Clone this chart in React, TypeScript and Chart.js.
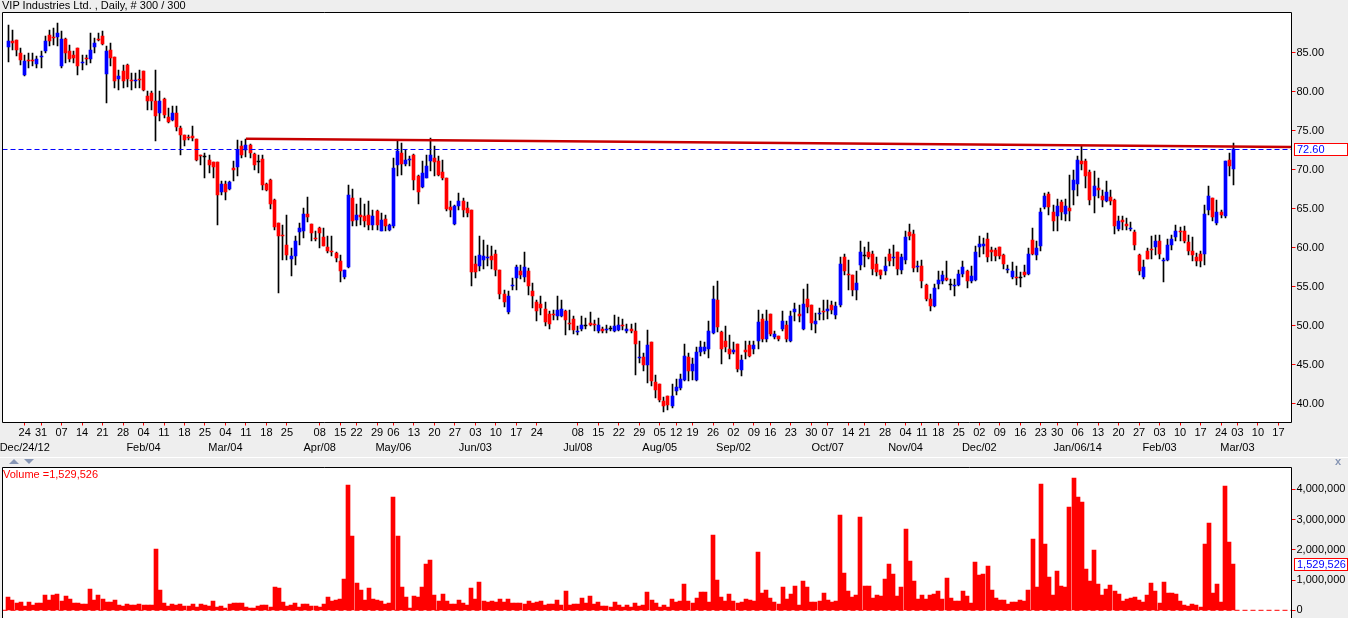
import React, { useEffect, useRef } from "react";
import { Chart, registerables } from "chart.js";

Chart.register(...registerables);

const title = "VIP Industries Ltd. , Daily, # 300 / 300";

const openP = [
  85.68, 86.45, 86.67, 84.96, 82.18, 84.10, 84.10, 83.59, 84.40, 85.17,
  87.22, 87.05, 87.01, 83.25, 86.79, 85.26, 84.74, 85.60, 83.70, 84.30,
  84.23, 85.73, 86.75, 87.18, 82.31, 85.38, 84.40, 81.67, 82.69, 83.46,
  81.50, 81.40, 81.67, 82.61, 79.40, 79.83, 78.76, 77.26, 79.06, 76.75,
  76.32, 77.26, 75.34, 74.49, 74.23, 74.36, 73.97, 71.92, 71.62, 71.28,
  71.02, 71.02, 67.09, 68.20, 67.56, 70.17, 70.34, 73.08, 72.48, 73.20,
  72.00, 71.00, 71.41, 68.20, 68.72, 66.15, 63.12, 61.60, 60.38, 58.59,
  58.97, 62.00, 62.10, 64.36, 63.08, 61.20, 62.52, 61.33, 60.13, 59.62,
  59.36, 58.25, 56.24, 57.52, 66.37, 63.59, 64.20, 64.10, 64.23, 62.95,
  64.66, 62.18, 63.68, 62.22, 62.74, 70.64, 72.14, 70.77, 71.20, 71.92,
  69.23, 67.78, 68.93, 71.15, 71.54, 71.15, 69.74, 68.93, 65.21, 63.08,
  65.30, 66.03, 65.09, 64.87, 57.95, 57.61, 58.38, 58.66, 58.89, 59.23,
  57.18, 54.10, 51.71, 55.10, 56.08, 57.05, 56.20, 57.05, 54.40, 53.03,
  52.82, 52.18, 51.54, 51.50, 51.20, 51.28, 51.92, 50.30, 50.90, 49.17,
  49.62, 50.00, 50.38, 50.26, 49.28, 49.62, 49.40, 49.57, 49.36, 49.49,
  50.13, 49.28, 49.57, 49.36, 45.84, 45.98, 44.92, 47.91, 42.78, 42.52,
  40.39, 40.94, 39.66, 41.58, 42.01, 43.08, 45.98, 44.15, 43.08, 46.58,
  46.79, 47.05, 49.06, 53.33, 49.15, 47.99, 47.05, 46.62, 47.69, 44.27,
  46.92, 47.56, 47.05, 48.08, 50.90, 48.33, 51.50, 48.55, 48.63, 49.62,
  50.13, 48.08, 51.79, 51.54, 49.62, 53.46, 52.69, 50.26, 51.45, 51.84,
  51.92, 52.61, 51.33, 52.61, 58.80, 56.54, 56.54, 54.62, 57.73, 58.93,
  59.45, 59.19, 57.93, 57.09, 56.97, 59.23, 58.63, 59.40, 57.09, 58.46,
  61.97, 61.80, 57.56, 57.69, 55.26, 53.42, 52.48, 55.34, 55.68, 56.11,
  55.26, 55.13, 55.26, 56.62, 57.05, 55.68, 55.90, 60.04, 60.17, 61.15,
  59.66, 59.66, 60.09, 59.10, 57.14, 56.20, 56.15, 56.11, 56.84, 56.67,
  61.03, 59.10, 60.17, 65.17, 66.88, 64.57, 64.02, 65.85, 64.36, 65.09,
  67.35, 68.21, 71.15, 71.15, 69.66, 66.58, 67.61, 66.58, 65.94, 66.45,
  66.15, 62.44, 63.59, 63.08, 62.40, 61.97, 59.10, 56.20, 59.53, 59.80,
  60.04, 60.90, 58.33, 58.38, 60.38, 61.32, 62.10, 62.18, 60.73, 59.53,
  58.76, 59.19, 59.19, 64.87, 66.37, 63.16, 64.57, 64.02, 71.20, 70.09,
];

const highP = [
  88.59, 87.95, 86.70, 85.60, 84.74, 84.96, 84.96, 84.53, 85.17, 87.09,
  87.86, 88.16, 88.80, 87.74, 86.85, 86.03, 85.17, 85.65, 84.74, 84.74,
  87.52, 86.88, 87.52, 87.74, 85.81, 86.24, 84.45, 82.82, 83.46, 83.50,
  82.39, 82.39, 82.82, 82.65, 80.04, 80.04, 82.82, 80.04, 79.19, 77.91,
  78.12, 78.12, 75.56, 74.50, 74.49, 75.56, 74.00, 71.92, 72.14, 71.92,
  71.05, 71.05, 68.50, 68.50, 68.50, 71.07, 73.85, 73.63, 73.93, 73.30,
  72.14, 71.92, 71.92, 68.30, 68.80, 66.20, 63.20, 62.95, 64.14, 59.96,
  61.45, 63.16, 65.10, 66.45, 63.10, 62.10, 62.60, 62.52, 61.54, 61.45,
  59.40, 59.02, 57.10, 68.08, 67.52, 65.64, 66.37, 65.64, 65.94, 64.87,
  64.87, 64.44, 64.23, 63.00, 71.50, 73.63, 73.42, 72.56, 71.71, 72.05,
  69.30, 71.07, 71.92, 74.06, 72.99, 71.71, 71.28, 69.00, 65.94, 65.51,
  67.01, 66.37, 65.81, 64.90, 58.89, 61.54, 60.94, 60.38, 60.17, 59.74,
  57.20, 54.60, 54.40, 56.11, 57.76, 57.82, 59.45, 57.39, 55.47, 53.33,
  53.76, 53.03, 51.92, 52.05, 53.85, 53.33, 52.05, 52.05, 51.28, 49.92,
  51.28, 50.98, 51.75, 50.77, 50.98, 49.83, 50.13, 49.92, 51.41, 51.11,
  50.85, 50.21, 50.21, 50.34, 47.99, 46.50, 49.49, 47.95, 43.72, 42.55,
  40.81, 41.00, 42.52, 43.16, 43.80, 47.69, 46.50, 45.85, 47.22, 48.08,
  47.86, 50.56, 55.13, 55.68, 49.36, 50.00, 48.85, 47.86, 47.70, 46.28,
  47.99, 47.99, 48.08, 52.05, 51.54, 52.05, 51.54, 49.27, 48.65, 51.84,
  50.64, 51.84, 52.91, 52.61, 54.74, 55.38, 52.70, 51.62, 52.26, 53.33,
  53.33, 53.20, 53.03, 58.76, 59.19, 58.46, 56.55, 57.05, 60.90, 60.09,
  60.73, 59.53, 58.80, 57.10, 58.80, 59.83, 60.38, 59.45, 59.23, 62.09,
  63.03, 62.31, 58.33, 58.46, 55.30, 54.06, 55.34, 56.97, 57.05, 58.25,
  56.03, 56.03, 57.18, 58.33, 57.10, 57.61, 60.17, 61.45, 61.24, 61.88,
  60.09, 59.96, 60.10, 59.15, 57.82, 58.16, 57.69, 56.88, 57.82, 59.96,
  62.52, 60.90, 65.09, 67.01, 67.14, 65.51, 66.28, 66.15, 66.28, 69.36,
  70.00, 71.79, 72.99, 71.41, 70.00, 69.87, 68.93, 67.44, 68.50, 67.44,
  66.20, 64.02, 64.02, 63.80, 63.29, 62.31, 59.15, 58.46, 59.96, 61.45,
  61.58, 61.67, 58.67, 61.15, 61.67, 62.86, 62.61, 62.74, 61.67, 61.32,
  59.32, 59.62, 65.51, 67.86, 66.40, 66.07, 64.87, 71.10, 72.14, 73.42,
];

const lowP = [
  83.80, 85.38, 84.53, 83.46, 82.05, 83.03, 83.25, 83.03, 83.03, 84.96,
  85.81, 86.03, 85.81, 83.03, 83.68, 83.76, 83.68, 82.18, 82.82, 83.46,
  83.68, 84.96, 86.45, 86.03, 78.55, 83.25, 80.47, 80.26, 80.47, 80.56,
  80.26, 80.47, 80.47, 80.04, 77.61, 77.61, 73.63, 76.20, 76.62, 75.98,
  76.20, 74.91, 71.84, 73.00, 73.85, 73.63, 71.07, 70.64, 68.93, 69.57,
  68.93, 62.86, 66.80, 66.07, 67.40, 68.50, 69.15, 71.50, 71.58, 71.50,
  70.00, 69.57, 67.44, 67.30, 65.00, 62.30, 54.20, 58.46, 58.46, 56.33,
  57.82, 60.38, 61.24, 63.29, 60.81, 60.81, 59.96, 60.17, 59.32, 58.89,
  58.16, 55.60, 56.03, 57.40, 62.82, 62.74, 62.95, 62.65, 62.31, 62.31,
  62.22, 62.10, 62.10, 62.10, 62.52, 69.23, 69.36, 70.43, 70.51, 67.44,
  65.64, 67.65, 68.93, 69.79, 69.15, 69.15, 68.72, 64.66, 63.93, 62.95,
  64.87, 63.93, 63.93, 55.04, 56.11, 56.97, 57.26, 57.61, 57.26, 56.41,
  53.42, 52.40, 51.50, 54.60, 54.55, 56.03, 55.60, 53.97, 52.26, 50.64,
  51.41, 49.92, 49.62, 50.77, 50.77, 51.07, 48.76, 49.49, 48.93, 48.76,
  49.32, 49.62, 49.92, 49.36, 49.06, 49.06, 49.06, 49.36, 49.19, 49.28,
  49.49, 49.06, 49.06, 43.72, 45.21, 44.15, 42.65, 42.22, 40.73, 40.21,
  38.93, 39.23, 39.45, 41.15, 41.80, 42.86, 42.86, 43.08, 42.86, 46.07,
  46.37, 45.85, 48.93, 49.19, 45.13, 46.62, 45.77, 46.37, 44.02, 43.50,
  45.77, 45.94, 46.37, 47.05, 47.91, 47.86, 48.63, 48.33, 48.08, 49.27,
  47.91, 47.91, 50.56, 50.47, 49.49, 51.62, 49.49, 49.06, 50.77, 50.77,
  50.90, 51.50, 50.90, 52.35, 56.45, 54.62, 53.76, 53.25, 57.18, 57.48,
  58.55, 56.54, 56.43, 56.03, 56.54, 57.61, 57.61, 56.54, 56.62, 57.91,
  60.94, 56.88, 56.88, 54.83, 53.12, 51.92, 52.35, 54.74, 55.38, 55.68,
  54.62, 53.76, 55.04, 56.20, 54.83, 55.47, 55.68, 58.76, 59.19, 58.12,
  58.25, 58.33, 58.59, 57.31, 56.75, 56.03, 55.26, 54.96, 56.20, 56.54,
  59.10, 58.46, 59.53, 64.99, 64.23, 62.09, 62.18, 63.59, 63.46, 63.46,
  65.51, 66.58, 70.00, 67.65, 65.51, 64.44, 66.37, 65.17, 65.81, 65.51,
  61.75, 62.09, 62.31, 62.31, 62.09, 59.74, 56.45, 56.03, 58.50, 58.59,
  59.10, 58.59, 55.60, 58.25, 59.74, 60.81, 60.81, 60.60, 59.10, 58.25,
  57.69, 57.52, 57.82, 64.23, 63.46, 62.95, 63.80, 63.80, 69.15, 67.99,
];

const closeP = [
  86.45, 86.24, 85.30, 84.10, 83.89, 84.00, 84.00, 84.23, 84.50, 86.54,
  86.45, 86.95, 87.56, 86.79, 84.96, 84.23, 84.32, 83.25, 83.80, 84.20,
  85.38, 86.24, 86.58, 86.15, 85.26, 84.32, 81.32, 82.05, 81.41, 81.67,
  81.40, 81.50, 81.45, 80.17, 78.76, 78.76, 76.84, 78.76, 77.05, 76.07,
  77.26, 75.47, 74.49, 73.76, 74.06, 74.06, 71.28, 71.71, 71.62, 70.55,
  70.30, 66.71, 68.20, 67.09, 68.38, 69.92, 72.56, 71.92, 73.20, 72.14,
  70.55, 71.00, 68.08, 67.44, 65.64, 62.60, 61.45, 61.50, 59.10, 58.97,
  60.90, 62.51, 64.36, 63.89, 61.88, 61.10, 61.88, 60.17, 59.53, 59.45,
  58.67, 56.97, 57.09, 66.80, 63.38, 64.23, 64.00, 63.38, 62.95, 64.10,
  62.95, 63.59, 62.74, 62.95, 70.21, 72.35, 70.77, 71.28, 71.24, 68.72,
  67.09, 69.57, 70.51, 71.92, 70.94, 69.36, 68.93, 65.00, 64.79, 65.30,
  66.03, 64.79, 64.44, 56.84, 56.84, 59.11, 58.89, 58.72, 58.46, 57.18,
  54.06, 53.00, 53.85, 55.18, 57.48, 56.45, 57.56, 55.04, 53.76, 51.84,
  52.26, 50.43, 50.21, 51.33, 52.05, 52.14, 50.68, 50.25, 49.49, 49.25,
  50.13, 50.00, 50.13, 50.04, 50.13, 49.28, 49.45, 49.57, 49.96, 50.13,
  50.00, 49.62, 49.36, 47.65, 45.90, 44.92, 47.56, 42.86, 41.71, 40.43,
  39.66, 39.87, 40.94, 42.14, 43.21, 46.15, 44.15, 45.09, 46.58, 47.27,
  47.22, 49.27, 53.46, 49.79, 47.05, 47.22, 46.37, 46.92, 44.49, 45.64,
  46.58, 46.07, 47.56, 50.43, 48.33, 50.64, 48.97, 48.97, 48.33, 50.56,
  48.33, 51.20, 52.09, 51.20, 52.78, 52.35, 50.34, 50.64, 51.50, 51.71,
  52.18, 52.05, 52.48, 57.95, 56.97, 56.45, 54.53, 55.47, 59.40, 58.93,
  58.76, 57.31, 56.86, 56.45, 57.69, 58.25, 58.68, 57.31, 58.76, 61.37,
  61.45, 57.39, 57.60, 55.68, 53.42, 52.48, 54.83, 55.90, 56.54, 55.90,
  55.26, 55.20, 56.62, 57.52, 55.68, 56.41, 59.40, 60.51, 60.51, 58.76,
  59.45, 58.89, 58.89, 57.95, 57.20, 57.05, 56.10, 56.11, 56.54, 59.23,
  59.19, 59.96, 64.53, 66.58, 65.17, 63.46, 65.30, 64.53, 65.38, 64.66,
  68.72, 71.28, 70.77, 69.15, 66.15, 67.86, 67.35, 66.15, 67.09, 65.94,
  62.74, 63.46, 63.29, 62.74, 62.52, 60.38, 57.05, 57.52, 58.59, 59.70,
  60.90, 59.19, 58.42, 60.38, 61.15, 62.09, 62.00, 60.90, 59.62, 59.10,
  58.33, 58.33, 64.36, 66.67, 63.89, 64.57, 64.23, 71.07, 70.51, 72.60,
];

const volume = [
  440000, 340000, 230000, 280000, 150000, 280000, 190000, 230000, 230000, 510000,
  340000, 510000, 540000, 320000, 470000, 370000, 230000, 230000, 210000, 210000,
  710000, 340000, 510000, 370000, 280000, 280000, 340000, 170000, 150000, 210000,
  180000, 170000, 210000, 170000, 190000, 170000, 2030000, 670000, 240000, 150000,
  210000, 170000, 210000, 150000, 150000, 210000, 100000, 210000, 180000, 150000,
  310000, 120000, 150000, 80000, 210000, 230000, 240000, 240000, 120000, 80000,
  80000, 150000, 190000, 180000, 110000, 770000, 740000, 280000, 150000, 170000,
  240000, 120000, 210000, 210000, 150000, 150000, 110000, 210000, 440000, 300000,
  340000, 370000, 1040000, 4150000, 2460000, 900000, 670000, 340000, 740000, 370000,
  340000, 320000, 210000, 240000, 3750000, 2470000, 770000, 440000, 80000, 470000,
  440000, 770000, 1540000, 1660000, 510000, 310000, 540000, 310000, 210000, 210000,
  340000, 240000, 180000, 740000, 370000, 940000, 310000, 280000, 310000, 280000,
  370000, 280000, 370000, 240000, 240000, 240000, 210000, 310000, 240000, 280000,
  310000, 190000, 210000, 210000, 340000, 180000, 640000, 180000, 210000, 210000,
  410000, 240000, 470000, 210000, 280000, 140000, 140000, 110000, 280000, 180000,
  110000, 180000, 110000, 240000, 140000, 180000, 610000, 340000, 240000, 110000,
  180000, 110000, 370000, 280000, 310000, 870000, 310000, 240000, 410000, 610000,
  610000, 280000, 2490000, 1000000, 440000, 310000, 540000, 310000, 240000, 280000,
  370000, 340000, 310000, 1930000, 570000, 670000, 410000, 280000, 210000, 770000,
  370000, 540000, 800000, 180000, 970000, 770000, 280000, 280000, 310000, 570000,
  340000, 280000, 310000, 3150000, 1230000, 640000, 440000, 510000, 3090000, 800000,
  800000, 410000, 510000, 470000, 1040000, 1530000, 1200000, 470000, 770000, 2690000,
  1630000, 970000, 370000, 510000, 370000, 510000, 540000, 640000, 370000, 1070000,
  410000, 310000, 310000, 640000, 470000, 240000, 1600000, 1180000, 1200000, 1470000,
  670000, 410000, 340000, 340000, 210000, 280000, 280000, 340000, 310000, 670000,
  2360000, 770000, 4180000, 2190000, 1100000, 510000, 1300000, 800000, 770000, 3420000,
  4370000, 3750000, 3580000, 1370000, 970000, 1990000, 870000, 510000, 710000, 840000,
  640000, 540000, 310000, 370000, 410000, 440000, 340000, 280000, 510000, 900000,
  640000, 240000, 940000, 570000, 570000, 540000, 310000, 180000, 140000, 210000,
  180000, 110000, 2190000, 2890000, 570000, 870000, 280000, 4110000, 2260000, 1529526,
];

// weekly date ticks (bar index of each labelled Monday)
const tickIdx = [
  4, 8, 13, 18, 23, 28, 33, 38, 43, 48, 53, 58, 63, 68, 76, 81, 85, 90, 94, 99,
  104, 109, 114, 119, 124, 129, 139, 144, 149, 154, 159, 163, 167, 172, 177, 182, 186, 191, 196, 200,
  205, 209, 214, 219, 223, 227, 232, 237, 242, 247, 252, 256, 261, 266, 271, 276, 281, 286, 291, 296,
  300, 305, 310,
];
const tickDay = [
  "24", "31", "07", "14", "21", "28", "04", "11", "18", "25", "04", "11", "18", "25", "08", "15", "22", "29", "06", "13",
  "20", "27", "03", "10", "17", "24", "08", "15", "22", "29", "05", "12", "19", "26", "02", "09", "16", "23", "30", "07",
  "14", "21", "28", "04", "11", "18", "25", "02", "09", "16", "23", "30", "06", "13", "20", "27", "03", "10", "17", "24",
  "03", "10", "17",
];
const tickMonth = [
  "Dec/24/12", "", "", "", "", "", "Feb/04", "", "", "", "Mar/04", "", "", "", "Apr/08", "", "", "", "May/06", "",
  "", "", "Jun/03", "", "", "", "Jul/08", "", "", "", "Aug/05", "", "", "", "Sep/02", "", "", "", "", "Oct/07",
  "", "", "", "Nov/04", "", "", "", "Dec/02", "", "", "", "", "Jan/06/14", "", "", "", "Feb/03", "", "", "",
  "Mar/03", "", "",
];

const priceTicks = [40, 45, 50, 55, 60, 65, 70, 75, 80, 85];
const volumeTicks = [0, 1000000, 2000000, 3000000, 4000000];

// resistance trend line (bar index, price)
const trendIdx = [58, 313.2];
const trendPrice = [73.97, 72.92];

// axis ranges
const X_MIN = -1.42;
const X_MAX = 313.2;
const PRICE_MIN = 37.6;
const PRICE_MAX = 90.164;
const VOL_MIN = -254500;
const VOL_MAX = 4720700;

const FONT = "'Liberation Sans', Arial, sans-serif";
const fmtInt = (v: number) => Math.round(v).toLocaleString("en-US");

Chart.defaults.font.family = FONT;
Chart.defaults.font.size = 11;
Chart.defaults.color = "#000";

const plotAreaPlugin = (withBottom: boolean) => ({
  id: "plotArea",
  beforeDraw(chart: any) {
    const { ctx, chartArea: a } = chart;
    ctx.save();
    ctx.fillStyle = "#ffffff";
    ctx.fillRect(a.left, a.top, a.right - a.left, a.bottom - a.top);
    ctx.restore();
  },
  afterDatasetsDraw(chart: any) {
    const { ctx, chartArea: a } = chart;
    ctx.save();
    ctx.strokeStyle = "#000";
    ctx.lineWidth = 1;
    ctx.beginPath();
    ctx.moveTo(a.left, a.bottom);
    ctx.lineTo(a.left, a.top);
    ctx.lineTo(a.right, a.top);
    ctx.lineTo(a.right, a.bottom);
    if (withBottom) ctx.lineTo(a.left, a.bottom);
    ctx.stroke();
    ctx.restore();
  },
});

// snap bar elements (placed by the library's scales) to whole pixels
const crispPlugin = {
  id: "crisp",
  beforeDatasetsDraw(chart: any) {
    chart.data.datasets.forEach((_ds: any, di: number) => {
      const meta = chart.getDatasetMeta(di);
      if (meta.type !== "bar") return;
      meta.data.forEach((el: any) => {
        const w = Math.round(el.width);
        el.x = w % 2 === 1 ? Math.floor(el.x) + 0.5 : Math.round(el.x);
        const y = Math.round(el.y);
        let b = Math.round(el.base);
        if (Math.abs(b - y) < 1) b = y + 1;
        el.y = y;
        el.base = b;
      });
    });
  },
};

const valueBoxPlugin = (value: number, text: string) => ({
  id: "valueBox",
  afterDraw(chart: any) {
    const { ctx, chartArea: a, scales } = chart;
    const yc = scales.y.getPixelForValue(value);
    const top = Math.round(yc - 6.5) + 0.5;
    const left = Math.round(a.right) + 2.5;
    ctx.save();
    ctx.fillStyle = "#ffffff";
    ctx.fillRect(left, top, 53, 12);
    ctx.strokeStyle = "#ff0000";
    ctx.lineWidth = 1;
    ctx.strokeRect(left, top, 53, 12);
    ctx.fillStyle = "#0000ff";
    ctx.font = `11px ${FONT}`;
    ctx.textAlign = "left";
    ctx.textBaseline = "middle";
    ctx.fillText(text, left + 2.5, top + 6.5);
    ctx.restore();
  },
});

const xScaleBase = {
  type: "linear",
  min: X_MIN,
  max: X_MAX,
  offset: false,
  border: { display: false },
};

function priceConfig(): any {
  const n = closeP.length;
  const lastClose = closeP[n - 1];
  const wicks = closeP.map((_c, i) => ({ x: i, y: [lowP[i], highP[i]] }));
  const bodies = closeP.map((c, i) => ({ x: i, y: [openP[i], c] }));
  const bodyColors = closeP.map((c, i) => (c > openP[i] ? "#0000ff" : c < openP[i] ? "#ff0000" : "#000000"));
  return {
    type: "bar",
    data: {
      datasets: [
        {
          type: "line",
          data: [
            { x: X_MIN, y: lastClose },
            { x: X_MAX, y: lastClose },
          ],
          borderColor: "#0000ff",
          borderWidth: 1,
          borderDash: [5, 3],
          pointRadius: 0,
          order: 0,
        },
        {
          type: "line",
          data: trendIdx.map((x, i) => ({ x, y: trendPrice[i] })),
          borderColor: "#c80000",
          borderWidth: 2.5,
          pointRadius: 0,
          order: 1,
        },
        {
          type: "bar",
          data: bodies,
          backgroundColor: bodyColors,
          barThickness: 3,
          grouped: false,
          minBarLength: 1,
          order: 2,
        },
        {
          type: "bar",
          data: wicks,
          backgroundColor: "#000000",
          barThickness: 1,
          grouped: false,
          order: 3,
        },
      ],
    },
    options: {
      animation: false,
      responsive: false,
      events: [],
      layout: { padding: { left: 2.5, top: 12.5, right: 0, bottom: 0 } },
      plugins: { legend: { display: false }, tooltip: { enabled: false } },
      scales: {
        x: {
          ...xScaleBase,
          grid: { offset: false, drawOnChartArea: false, tickLength: 3, tickColor: "#ff0000", tickWidth: 1 },
          ticks: {
            autoSkip: false,
            maxRotation: 0,
            minRotation: 0,
            padding: 0,
            color: "#000",
            font: { family: FONT, size: 11, lineHeight: "15px" },
            callback: (_v: any, i: number) => (tickMonth[i] ? [tickDay[i], tickMonth[i]] : tickDay[i]),
          },
          afterBuildTicks: (s: any) => {
            s.ticks = tickIdx.map((v) => ({ value: v }));
          },
          afterFit: (s: any) => {
            s.height = 34.5;
            s.paddingLeft = 0;
            s.paddingRight = 0;
          },
        },
        y: {
          type: "linear",
          position: "right",
          min: PRICE_MIN,
          max: PRICE_MAX,
          border: { display: false },
          grid: { drawOnChartArea: false, tickLength: 4, tickColor: "#ff0000", tickWidth: 1 },
          ticks: {
            padding: 1,
            color: "#000",
            font: { family: FONT, size: 11 },
            callback: (v: any) => Number(v).toFixed(2),
          },
          afterBuildTicks: (s: any) => {
            s.ticks = priceTicks.map((v) => ({ value: v }));
          },
          afterFit: (s: any) => {
            s.width = 56.5;
            s.paddingTop = 0;
            s.paddingBottom = 0;
          },
        },
      },
    },
    plugins: [plotAreaPlugin(true), crispPlugin, valueBoxPlugin(lastClose, lastClose.toFixed(2))],
  };
}

function volumeConfig(): any {
  const n = volume.length;
  const lastVol = volume[n - 1];
  return {
    type: "bar",
    data: {
      datasets: [
        {
          type: "line",
          data: [
            { x: X_MIN, y: 0 },
            { x: X_MAX, y: 0 },
          ],
          borderColor: "#ff0000",
          borderWidth: 1,
          borderDash: [5, 3],
          pointRadius: 0,
          order: 0,
        },
        {
          type: "bar",
          data: volume.map((v, i) => ({ x: i, y: v })),
          backgroundColor: "#ff0000",
          barThickness: 4,
          grouped: false,
          order: 1,
        },
      ],
    },
    options: {
      animation: false,
      responsive: false,
      events: [],
      layout: { padding: { left: 2.5, top: 10.5, right: 0, bottom: 0 } },
      plugins: { legend: { display: false }, tooltip: { enabled: false } },
      scales: {
        x: { ...xScaleBase, display: false, grid: { offset: false } },
        y: {
          type: "linear",
          position: "right",
          min: VOL_MIN,
          max: VOL_MAX,
          border: { display: false },
          grid: { drawOnChartArea: false, tickLength: 4, tickColor: "#ff0000", tickWidth: 1 },
          ticks: {
            padding: 1,
            color: "#000",
            font: { family: FONT, size: 11 },
            callback: (v: any) => fmtInt(Number(v)),
          },
          afterBuildTicks: (s: any) => {
            s.ticks = volumeTicks.map((v) => ({ value: v }));
          },
          afterFit: (s: any) => {
            s.width = 56.5;
            s.paddingTop = 0;
            s.paddingBottom = 0;
          },
        },
      },
    },
    plugins: [plotAreaPlugin(false), crispPlugin, valueBoxPlugin(lastVol, fmtInt(lastVol))],
  };
}

const triColor = "#8796b4";

export default function App() {
  const priceRef = useRef<HTMLCanvasElement>(null);
  const volRef = useRef<HTMLCanvasElement>(null);

  useEffect(() => {
    const pc = new Chart(priceRef.current as HTMLCanvasElement, priceConfig());
    const vc = new Chart(volRef.current as HTMLCanvasElement, volumeConfig());
    return () => {
      pc.destroy();
      vc.destroy();
    };
  }, []);

  const lastVol = volume[volume.length - 1];

  return (
    <div
      style={{
        position: "fixed",
        left: 0,
        top: 0,
        width: 1348,
        height: 618,
        background: "#eeeeee",
        overflow: "hidden",
        fontFamily: FONT,
      }}
    >
      <canvas
        ref={priceRef}
        width={1348}
        height={457}
        style={{ position: "absolute", left: 0, top: 0, width: 1348, height: 457 }}
      />
      <div style={{ position: "absolute", left: 0, top: 457, width: 1348, height: 1, background: "#ffffff" }} />
      <canvas
        ref={volRef}
        width={1348}
        height={161}
        style={{ position: "absolute", left: 0, top: 457, width: 1348, height: 161 }}
      />
      <div
        style={{
          position: "absolute",
          left: 2,
          top: -1,
          fontSize: 11,
          lineHeight: "12px",
          color: "#000",
          whiteSpace: "nowrap",
        }}
      >
        {title}
      </div>
      <div
        style={{
          position: "absolute",
          left: 3,
          top: 468,
          fontSize: 11,
          lineHeight: "12px",
          color: "#ff0000",
          whiteSpace: "nowrap",
        }}
      >
        {`Volume =${fmtInt(lastVol)}`}
      </div>
      <div
        style={{
          position: "absolute",
          left: 9,
          top: 459,
          width: 0,
          height: 0,
          borderLeft: "5px solid transparent",
          borderRight: "5px solid transparent",
          borderBottom: `5px solid ${triColor}`,
        }}
      />
      <div
        style={{
          position: "absolute",
          left: 24,
          top: 459,
          width: 0,
          height: 0,
          borderLeft: "5px solid transparent",
          borderRight: "5px solid transparent",
          borderTop: `5px solid ${triColor}`,
        }}
      />
      <div
        style={{
          position: "absolute",
          left: 1335,
          top: 455,
          fontSize: 11,
          lineHeight: "12px",
          fontWeight: "bold",
          color: triColor,
        }}
      >
        x
      </div>
    </div>
  );
}
